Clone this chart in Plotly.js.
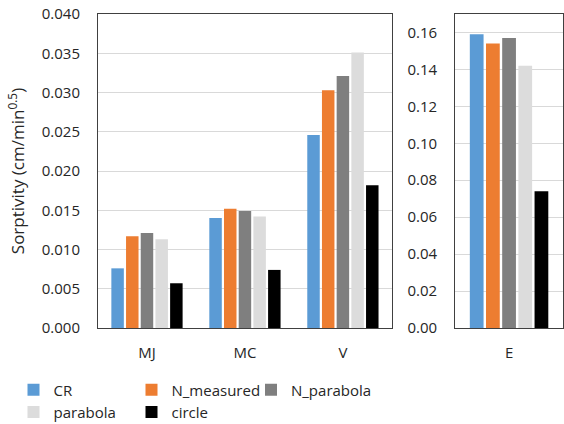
<!DOCTYPE html>
<html><head><meta charset="utf-8">
<script src="https://cdn.plot.ly/plotly-3.0.1.min.js"></script>
<style>html,body{margin:0;padding:0;background:#fff}#chart{width:564px;height:424px}</style>
</head><body><div id="chart"></div>
<script>
const soils = ['MJ', 'MC', 'V'];
const soilE = ['E'];
const seriesNames = ['CR', 'N_measured', 'N_parabola', 'parabola', 'circle'];
const seriesColors = ['#5B9BD5', '#ED7D31', '#7F7F7F', '#DCDCDC', '#000000'];
const CR = [0.0076, 0.0140, 0.0246];
const N_measured = [0.0117, 0.0152, 0.0303];
const N_parabola = [0.0121, 0.0149, 0.0321];
const parabola = [0.0113, 0.0142, 0.0351];
const circle = [0.0057, 0.0074, 0.0182];
const CR_E = [0.159];
const N_measured_E = [0.154];
const N_parabola_E = [0.157];
const parabola_E = [0.142];
const circle_E = [0.074];
const leftTicks = [0, 0.005, 0.010, 0.015, 0.020, 0.025, 0.030, 0.035, 0.040];
const rightTicks = [0, 0.02, 0.04, 0.06, 0.08, 0.10, 0.12, 0.14, 0.16];

const leftVals = [CR, N_measured, N_parabola, parabola, circle];
const rightVals = [CR_E, N_measured_E, N_parabola_E, parabola_E, circle_E];
const legendIds = ['legend', 'legend2', 'legend3', 'legend4', 'legend5'];
const FONT = 'Open Sans, sans-serif';
const traces = [];
seriesNames.forEach((n, i) => {
  traces.push({type: 'bar', name: n, x: soils, y: leftVals[i], marker: {color: seriesColors[i]},
    xaxis: 'x', yaxis: 'y', legend: legendIds[i], showlegend: true, legendgroup: n});
});
seriesNames.forEach((n, i) => {
  traces.push({type: 'bar', name: n, x: soilE, y: rightVals[i], marker: {color: seriesColors[i]},
    xaxis: 'x2', yaxis: 'y2', showlegend: false, legendgroup: n});
});
const axLine = '#404040';
const grid = '#D9D9D9';
const legBase = {orientation: 'h', xref: 'container', yref: 'container', xanchor: 'left', yanchor: 'middle',
  font: {size: 15}, bgcolor: 'rgba(0,0,0,0)'};
const layout = {
  width: 564, height: 424,
  margin: {l: 98, r: 1, t: 14, b: 96},
  paper_bgcolor: '#fff', plot_bgcolor: '#fff',
  font: {family: FONT, size: 15, color: '#262626'},
  barmode: 'group', bargap: 0.25, bargroupgap: 0.15,
  xaxis: {domain: [0, 0.632], showline: true, mirror: true, linecolor: axLine, linewidth: 1,
    ticks: '', ticklabelstandoff: 11, tickfont: {size: 15}},
  yaxis: {range: [0, 0.04], tickvals: leftTicks, tickformat: '.3f', showline: true, mirror: true,
    linecolor: axLine, linewidth: 1, gridcolor: grid, zeroline: false, ticks: '', ticklabelstandoff: 14,
    tickfont: {size: 15},
    title: {text: 'Sorptivity (cm/min<sup>0.5</sup>)', font: {size: 17}, standoff: 12}},
  xaxis2: {domain: [0.768, 1], anchor: 'y2', showline: true, mirror: true, linecolor: axLine, linewidth: 1,
    ticks: '', ticklabelstandoff: 11, tickfont: {size: 15}},
  yaxis2: {anchor: 'x2', range: [0, 0.17], tickvals: rightTicks, tickformat: '.2f', showline: true, mirror: true,
    linecolor: axLine, linewidth: 1, gridcolor: grid, zeroline: false, ticks: '', ticklabelstandoff: 14,
    tickfont: {size: 15}},
  legend: Object.assign({}, legBase, {x: 13.5 / 564, y: 0.08}),
  legend2: Object.assign({}, legBase, {x: 131.5 / 564, y: 0.08}),
  legend3: Object.assign({}, legBase, {x: 251 / 564, y: 0.08}),
  legend4: Object.assign({}, legBase, {x: 13.5 / 564, y: 0.028}),
  legend5: Object.assign({}, legBase, {x: 131.5 / 564, y: 0.028})
};
Plotly.newPlot('chart', traces, layout, {staticPlot: true, displayModeBar: false});
</script></body></html>
